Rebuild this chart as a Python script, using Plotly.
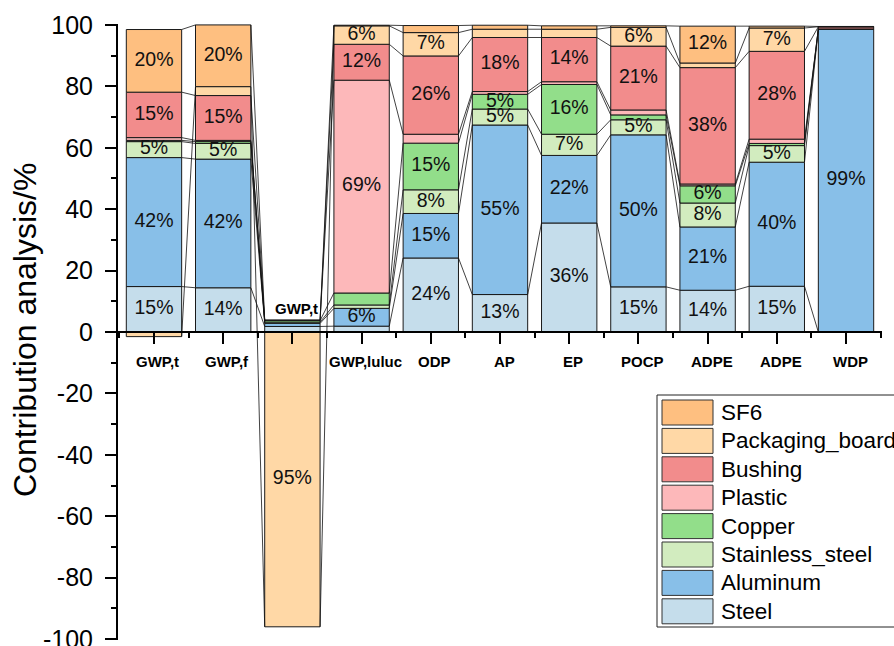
import plotly.graph_objects as go
import numpy as np

# ---------------- data ----------------
categories = ["GWP,t", "GWP,f", "GWP,t", "GWP,luluc", "ODP", "AP", "EP",
              "POCP", "ADPE", "ADPE", "WDP"]
series_names = ["Steel", "Aluminum", "Stainless_steel", "Copper", "Plastic",
                "Bushing", "Packaging_board", "SF6"]

steel     = [14.8, 14.4, 1.8, 1.9, 24.1, 12.2, 35.5, 14.7, 13.6, 14.9, 0.0]
aluminum  = [42.0, 41.9, 1.0, 5.8, 14.5, 55.2, 22.0, 49.5, 20.6, 40.4, 98.7]
stainless = [5.2, 5.1, 0.4, 1.1, 7.7, 5.2, 6.9, 4.9, 7.8, 5.4, 0.0]
copper    = [0.4, 0.6, 0.5, 3.9, 15.2, 4.8, 16.2, 1.6, 5.6, 0.7, 0.0]
plastic   = [0.9, 0.4, 0.1, 69.3, 2.9, 0.9, 0.9, 1.6, 0.6, 1.4, 0.0]
bushing   = [14.8, 14.6, 0.0, 11.7, 25.5, 17.6, 14.4, 20.8, 37.9, 28.6, 0.7]
packaging = [-1.5, 2.9, -96.0, 6.0, 7.6, 2.7, 2.7, 6.1, 1.5, 7.6, 0.0]
sf6       = [20.4, 20.1, 0.0, 0.2, 2.3, 1.3, 1.1, 0.5, 12.0, 0.6, 0.1]

steel_lbl     = ["15%", "14%", "", "", "24%", "13%", "36%", "15%", "14%", "15%", ""]
aluminum_lbl  = ["42%", "42%", "", "6%", "15%", "55%", "22%", "50%", "21%", "40%", "99%"]
stainless_lbl = ["5%", "5%", "", "", "8%", "5%", "7%", "5%", "8%", "5%", ""]
copper_lbl    = ["", "", "", "", "15%", "5%", "16%", "", "6%", "", ""]
plastic_lbl   = ["", "", "", "69%", "", "", "", "", "", "", ""]
bushing_lbl   = ["15%", "15%", "", "12%", "26%", "18%", "14%", "21%", "38%", "28%", ""]
packaging_lbl = ["", "", "95%", "6%", "7%", "", "", "6%", "", "7%", ""]
sf6_lbl       = ["20%", "20%", "", "", "", "", "", "", "12%", "", ""]

y_tickvals = [-100, -80, -60, -40, -20, 0, 20, 40, 60, 80, 100]
y_ticktext = ["-100", "-80", "-60", "-40", "-20", "0", "20", "40", "60", "80", "100"]

colors = ["#C5DDEB", "#88BFE8", "#D2ECBF", "#92DE8A", "#FDB8BA",
          "#F28C8C", "#FFD8A6", "#FEBF80"]

values = [steel, aluminum, stainless, copper, plastic, bushing, packaging, sf6]
labels = [steel_lbl, aluminum_lbl, stainless_lbl, copper_lbl, plastic_lbl,
          bushing_lbl, packaging_lbl, sf6_lbl]

FONT = "Liberation Sans, Arial, sans-serif"
BAR_W = 0.8
xs = list(range(len(categories)))

fig = go.Figure()

# stacked bars
for name, v, c in zip(series_names, values, colors):
    fig.add_trace(go.Bar(x=xs, y=v, name=name, width=BAR_W,
                         marker=dict(color=c, line=dict(color="#1a1a1a", width=1)),
                         showlegend=False, hoverinfo="skip"))

# segment ends / centers computed from the data (relative stacking)
n = len(categories)
pos = np.zeros(n)
neg = np.zeros(n)
ends, centers = [], []
for v in values:
    v = np.array(v, dtype=float)
    base = np.where(v >= 0, pos, neg)
    ends.append(base + v)
    centers.append(base + v / 2)
    pos = np.where(v >= 0, pos + v, pos)
    neg = np.where(v < 0, neg + v, neg)

# connector lines between adjacent bars
cx, cy = [], []
for e in ends:
    for j in range(n - 1):
        cx += [j + BAR_W / 2, j + 1 - BAR_W / 2, None]
        cy += [e[j], e[j + 1], None]
fig.add_trace(go.Scatter(x=cx, y=cy, mode="lines",
                         line=dict(color="#111111", width=0.8),
                         showlegend=False, hoverinfo="skip"))

# percentage labels
tx, ty, tt = [], [], []
for lbl, cen in zip(labels, centers):
    for j in range(n):
        if lbl[j]:
            tx.append(j)
            ty.append(cen[j])
            tt.append(lbl[j])
fig.add_trace(go.Scatter(x=tx, y=ty, text=tt, mode="text",
                         textfont=dict(family=FONT, size=19.5, color="#111111"),
                         showlegend=False, hoverinfo="skip"))

# category labels
annotations = []
for j, cat in enumerate(categories):
    if neg[j] < -20:
        yv = pos[j] + 4.0
    else:
        yv = -9.5
    annotations.append(dict(x=j, y=yv, xref="x", yref="y", text="<b>%s</b>" % cat,
                            showarrow=False, xshift=4,
                            font=dict(family=FONT, size=15, color="#000000")))

# geometry helpers (pixel -> paper)
ML, MR, MT, MB = 118, 12, 24, 6
W, H = 894, 646
PW, PH = W - ML - MR, H - MT - MB


def px(xp):
    return (xp - ML) / PW


def py(yp):
    return (H - MB - yp) / PH


# y-axis title
annotations.append(dict(x=px(25), y=py(330), xref="paper", yref="paper",
                        xanchor="center", yanchor="middle",
                        text="Contribution analysis/%", textangle=-90,
                        showarrow=False,
                        font=dict(family=FONT, size=32, color="#000000")))

# manual legend
shapes = [dict(type="rect", xref="paper", yref="paper",
               x0=px(657), x1=px(905), y0=py(627), y1=py(395),
               line=dict(color="#222222", width=1), fillcolor="white", layer="above")]
order = list(range(len(series_names)))[::-1]
for i, k in enumerate(order):
    top = 400 + 28.4 * i
    shapes.append(dict(type="rect", xref="paper", yref="paper",
                       x0=px(662), x1=px(713), y0=py(top + 25), y1=py(top),
                       line=dict(color="#333333", width=1), fillcolor=colors[k],
                       layer="above"))
    annotations.append(dict(x=px(719), y=py(top + 12.5), xref="paper", yref="paper",
                            text=series_names[k], showarrow=False,
                            xanchor="left", yanchor="middle",
                            font=dict(family=FONT, size=22.5, color="#000000")))

fig.update_layout(
    width=W, height=H,
    margin=dict(l=ML, r=MR, t=MT, b=MB, pad=0, autoexpand=False),
    plot_bgcolor="white", paper_bgcolor="white",
    barmode="relative", bargap=0.2,
    showlegend=False,
    annotations=annotations, shapes=shapes,
    font=dict(family=FONT, color="#000000"),
    xaxis=dict(range=[-0.52, n - 1 + 0.52], anchor="free", position=0.5,
               automargin=False,
               showgrid=False, zeroline=False, showline=True,
               linecolor="black", linewidth=2,
               tickmode="linear", tick0=0, dtick=1, ticks="outside",
               ticklen=11, tickwidth=2, tickcolor="black",
               showticklabels=False,
               minor=dict(tick0=0.5, dtick=1, ticks="outside", ticklen=5,
                          tickwidth=2, tickcolor="black")),
    yaxis=dict(range=[-100.3, 100.3], showgrid=False, zeroline=False,
               automargin=False,
               showline=True, linecolor="black", linewidth=2,
               tickmode="array", tickvals=y_tickvals, ticktext=y_ticktext,
               ticks="outside", ticklen=11, tickwidth=2, tickcolor="black",
               ticklabelstandoff=7, ticklabeloverflow="allow",
               tickfont=dict(family=FONT, size=25, color="#000000"),
               minor=dict(tick0=10, dtick=20, ticks="outside", ticklen=5,
                          tickwidth=2, tickcolor="black")),
)

fig.write_html("out.html")
